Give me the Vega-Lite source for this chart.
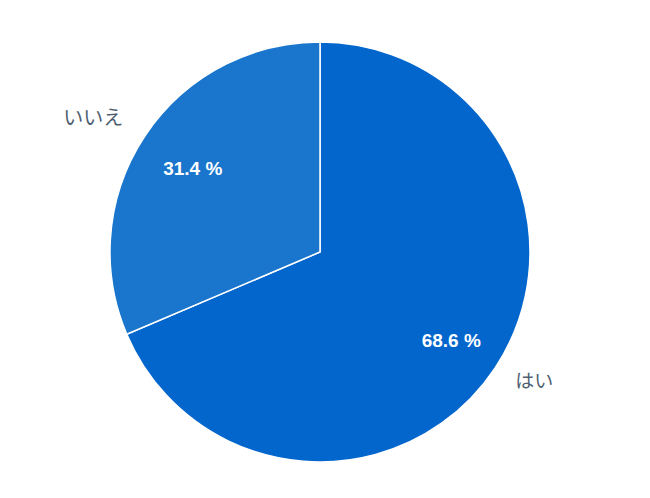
{
  "$schema": "https://vega.github.io/schema/vega-lite/v6.json",
  "autosize": "none",
  "width": 640,
  "height": 492,
  "padding": {"left": 0, "top": 6, "right": 10, "bottom": 0},
  "background": "white",
  "view": {"stroke": null},
  "data": {"values": [
    {"answer": "はい", "value": 68.6, "pct": "68.6 %", "order": 1},
    {"answer": "いいえ", "value": 31.4, "pct": "31.4 %", "order": 2}
  ]},
  "encoding": {
    "theta": {"field": "value", "type": "quantitative", "stack": true},
    "order": {"field": "order", "type": "quantitative"}
  },
  "layer": [
    {
      "mark": {"type": "arc", "outerRadius": 210, "stroke": "white", "strokeWidth": 1.5},
      "encoding": {
        "color": {"field": "answer", "type": "nominal", "scale": {"domain": ["はい", "いいえ"], "range": ["#0366cc", "#1976cc"]}, "legend": null}
      }
    },
    {
      "mark": {"type": "text", "radius": 155, "dx": 2, "dy": 3, "font": "Liberation Sans", "fontSize": 19, "fontWeight": "bold", "fill": "white"},
      "encoding": {"text": {"field": "pct"}}
    },
    {
      "mark": {"type": "text", "radius": 234, "dy": 1, "align": "left", "font": "Noto Sans CJK JP", "fontSize": 19, "fill": "#4f5f72"},
      "encoding": {"text": {"condition": {"test": "datum.answer === 'はい'", "field": "answer"}, "value": ""}}
    },
    {
      "mark": {"type": "text", "radius": 236, "dy": -3, "align": "right", "font": "Noto Sans CJK JP", "fontSize": 20, "fill": "#4f5f72"},
      "encoding": {"text": {"condition": {"test": "datum.answer === 'いいえ'", "field": "answer"}, "value": ""}}
    }
  ]
}
